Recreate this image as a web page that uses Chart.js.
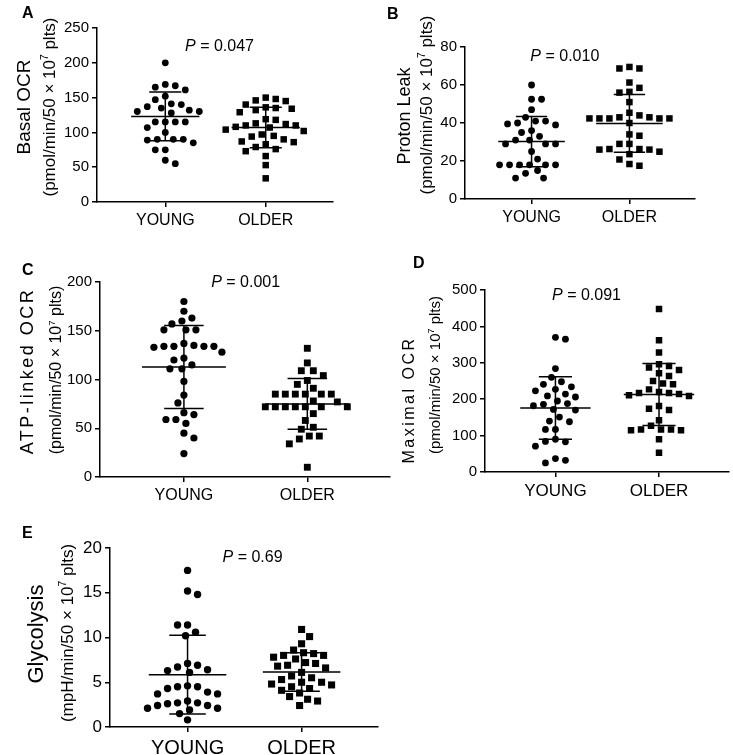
<!DOCTYPE html>
<html>
<head>
<meta charset="utf-8">
<script src="https://cdn.jsdelivr.net/npm/chart.js@4.4.0/dist/chart.umd.min.js"></script>
<style>
  body { margin: 0; background: #fff; width: 733px; height: 755px; position: relative; overflow: hidden; }
  canvas { position: absolute; }
</style>
</head>
<body>
<canvas id="chartA" width="365" height="245" style="left:0;top:0"></canvas>
<canvas id="chartB" width="368" height="245" style="left:365px;top:0"></canvas>
<canvas id="chartC" width="400" height="265" style="left:0;top:245px"></canvas>
<canvas id="chartD" width="333" height="265" style="left:400px;top:245px"></canvas>
<canvas id="chartE" width="400" height="245" style="left:0;top:510px"></canvas>
<script>
const groups = ['YOUNG', 'OLDER'];

// A - basal OCR
const basalYoung = [200, 169, 167, 165, 161, 152, 147, 141, 140, 137, 135, 132, 130, 130, 128, 115, 115, 115, 115, 107, 100, 90, 90, 89, 90, 85, 75, 75, 60, 55];
const basalOlder = [150, 148, 146, 145, 140, 136, 135, 134, 132, 129, 119, 118, 113, 112, 110, 110, 108, 107, 104, 102, 97, 95, 94, 90, 87, 86, 83, 79, 76, 73, 66, 53, 34];
const basalMean = [123, 107];
const basalSd = [35, 29];

// B - proton leak
const leakYoung = [60, 52.5, 52.5, 47, 41, 39.5, 41, 43, 39, 40, 35, 36, 33, 31, 31, 29, 29, 29, 25, 21, 18, 18, 18, 18, 18, 18, 13.5, 15, 11, 11];
const leakOlder = [69.5, 68.7, 68.7, 61.3, 58.5, 56.4, 56, 51, 45.4, 44, 43, 42.4, 42.4, 42.4, 42.4, 42.4, 43, 40, 33.3, 34, 29, 29, 26.3, 26, 26, 26.3, 24.9, 23.6, 20.8, 17.5, 18.4];
const leakMean = [30.2, 39.8];
const leakSd = [13.2, 15.2];

// C - ATP-linked OCR
const atpYoung = [180, 170, 163, 160, 157, 151, 151, 151, 137, 135, 134, 134, 134, 133, 134, 128, 122, 120, 115, 111, 111, 98, 84, 76, 66, 64, 59, 59, 55, 45, 40, 24];
const atpOlder = [132, 117, 109, 109, 104, 99, 95, 91, 85, 85, 85, 85, 85, 85, 78, 77, 72, 72, 72, 72, 72, 72, 72, 65, 58, 51, 49, 42, 42, 39, 34, 10];
const atpMean = [112.8, 75];
const atpSd = [42.6, 26];

// D - maximal OCR
const maxYoung = [370, 365, 284, 260, 248, 241, 234, 227, 223, 214, 209, 206, 195, 188, 186, 182, 172, 170, 151, 140, 138, 117, 117, 90, 84, 83, 71, 37, 32, 25];
const maxOlder = [448, 362, 328, 296, 291, 287, 280, 271, 264, 250, 243, 241, 227, 220, 217, 217, 214, 211, 209, 181, 174, 170, 142, 127, 117, 117, 117, 115, 115, 90, 53];
const maxMean = [176, 213];
const maxSd = [86, 85];

// E - glycolysis
const glyYoung = [17.5, 15.2, 14.8, 11.4, 11.4, 10.6, 10.2, 7.1, 6.9, 6.7, 6.4, 6.3, 6.1, 4.6, 4.5, 4.5, 4.3, 3.9, 3.7, 3.7, 2.9, 2.7, 2.7, 2.6, 2.4, 2.4, 2.1, 2.1, 1.9, 1.5, 0.8];
const glyOlder = [10.9, 10.1, 9.3, 8.6, 8.3, 8.2, 8.0, 8.0, 7.8, 7.6, 7.2, 7.1, 6.9, 6.8, 6.6, 6.1, 5.7, 5.5, 5.3, 5.0, 5.0, 4.8, 4.7, 4.5, 4.3, 4.1, 3.8, 3.4, 3.1, 2.9, 2.4];
const glyMean = [5.85, 6.15];
const glySd = [4.4, 2.15];

const pValues = ['0.047', '0.010', '0.001', '0.091', '0.69'];

Chart.defaults.font.family = "'Liberation Sans', Arial, sans-serif";
Chart.defaults.color = '#000';
const fam = Chart.defaults.font.family;

// box/plot in page pixels; t1/t2 = [centre x, centre y, font size, letter spacing]
const panels = [
  { id: 'chartA', letter: 'A', title: 'Basal OCR', unit: '(pmol/min/50 × 10', young: basalYoung, older: basalOlder, mean: basalMean, sd: basalSd, p: pValues[0],
    yMax: 250, yStep: 50, box: [0, 0, 365, 245], plot: [97, 28, 333, 202], xH: 30,
    letterAt: [22, 18], t1: [25, 107, 19, 0], t2: [50, 107, 17], pAt: [1.54, 223], tick: 15, label: 16, dot: 3.4 },
  { id: 'chartB', letter: 'B', title: 'Proton Leak', unit: '(pmol/min/50 × 10', young: leakYoung, older: leakOlder, mean: leakMean, sd: leakSd, p: pValues[1],
    yMax: 80, yStep: 20, box: [365, 0, 368, 245], plot: [465, 47, 695, 199], xH: 30,
    letterAt: [387, 19], t1: [405, 116, 18, 0], t2: [427, 105, 17], pAt: [1.34, 75], tick: 15, label: 16, dot: 3.4 },
  { id: 'chartC', letter: 'C', title: 'ATP-linked OCR', unit: '(pmol/min/50 × 10', young: atpYoung, older: atpOlder, mean: atpMean, sd: atpSd, p: pValues[2],
    yMax: 200, yStep: 50, box: [0, 245, 400, 265], plot: [100, 282, 390, 477], xH: 30,
    letterAt: [22, 275], t1: [28, 371, 18, 2.5], t2: [57, 370, 16], pAt: [1.5, 199], tick: 15, label: 16, dot: 3.6 },
  { id: 'chartD', letter: 'D', title: 'Maximal OCR', unit: '(pmol/min/50 × 10', young: maxYoung, older: maxOlder, mean: maxMean, sd: maxSd, p: pValues[3],
    yMax: 500, yStep: 100, box: [400, 245, 333, 265], plot: [485, 290, 733, 472], xH: 30,
    letterAt: [413, 268], t1: [410, 400, 16, 2.5], t2: [436, 375, 15], pAt: [1.3, 486], tick: 15, label: 17, dot: 3.4 },
  { id: 'chartE', letter: 'E', title: 'Glycolysis', unit: '(mpH/min/50 × 10', young: glyYoung, older: glyOlder, mean: glyMean, sd: glySd, p: pValues[4],
    yMax: 20, yStep: 5, box: [0, 510, 400, 245], plot: [110, 548, 378, 727], xH: 28,
    letterAt: [22, 538], t1: [37, 634, 22, 0], t2: [68, 633, 17], pAt: [1.57, 18.9], tick: 17, label: 20, dot: 3.7 }
];

function textPlugin(p) {
  return {
    id: 'panelText',
    afterDraw(chart) {
      const ctx = chart.ctx;
      const ox = p.box[0], oy = p.box[1];
      ctx.save();
      ctx.fillStyle = '#000';
      ctx.font = 'bold 16px ' + fam;
      ctx.textAlign = 'left';
      ctx.textBaseline = 'alphabetic';
      ctx.fillText(p.letter, p.letterAt[0] - ox, p.letterAt[1] - oy);

      // first y title line
      ctx.save();
      ctx.translate(p.t1[0] - ox, p.t1[1] - oy);
      ctx.rotate(-Math.PI / 2);
      ctx.font = p.t1[2] + 'px ' + fam;
      ctx.letterSpacing = p.t1[3] + 'px';
      ctx.textAlign = 'center';
      ctx.textBaseline = 'middle';
      ctx.fillText(p.title, 0, 0);
      ctx.restore();

      // unit line with superscript 7
      const s = p.t2[2];
      const parts = [[p.unit, s, 0], ['7', s * 0.6, -s * 0.3], [' plts)', s, 0]];
      ctx.save();
      ctx.translate(p.t2[0] - ox, p.t2[1] - oy);
      ctx.rotate(-Math.PI / 2);
      ctx.textAlign = 'left';
      ctx.textBaseline = 'middle';
      let total = 0;
      parts.forEach(([t, sz]) => { ctx.font = sz + 'px ' + fam; total += ctx.measureText(t).width; });
      let x = -total / 2;
      parts.forEach(([t, sz, dy]) => {
        ctx.font = sz + 'px ' + fam;
        ctx.fillText(t, x, dy);
        x += ctx.measureText(t).width;
      });
      ctx.restore();

      // P value
      const px = chart.scales.x.getPixelForValue(p.pAt[0]);
      const py = chart.scales.y.getPixelForValue(p.pAt[1]);
      const rest = ' = ' + p.p;
      ctx.font = 'italic 16px ' + fam;
      const w1 = ctx.measureText('P').width;
      ctx.font = '16px ' + fam;
      const w2 = ctx.measureText(rest).width;
      ctx.textBaseline = 'middle';
      ctx.font = 'italic 16px ' + fam;
      ctx.fillText('P', px - (w1 + w2) / 2, py);
      ctx.font = '16px ' + fam;
      ctx.fillText(rest, px - (w1 + w2) / 2 + w1, py);
      ctx.restore();
    }
  };
}

// spread points sideways like a dot plot, so they do not overlap
function arrange(chart) {
  const xs = chart.scales.x, ys = chart.scales.y;
  const unit = xs.getPixelForValue(2) - xs.getPixelForValue(1);
  const sx = 10, sy = 9;
  chart.data.datasets.forEach(ds => {
    if (!ds.swarm) return;
    const placed = [];
    const order = ds.data.map((d, i) => i).sort((a, b) => ds.data[b].y - ds.data[a].y);
    let side = 1;
    order.forEach(i => {
      const py = ys.getPixelForValue(ds.data[i].y);
      let off = 0;
      for (let k = 0; k < 80; k++) {
        const c = Math.ceil(k / 2) * 2 * (k % 2 ? side : -side);
        const hit = placed.some(q => Math.pow((q.x - c) / sx, 2) + Math.pow((q.y - py) / sy, 2) < 1);
        if (!hit) { off = c; break; }
      }
      if (off !== 0) side = -side;
      placed.push({ x: off, y: py });
      ds.data[i].x = ds.swarm + off / unit;
    });
  });
  chart.update('none');
}

const axisGrid = { drawOnChartArea: false, drawTicks: true, tickLength: 5, color: '#000', lineWidth: 1.5 };
const axisBorder = { color: '#000', width: 1.5 };

panels.forEach(p => {
  const [bx, by, bw, bh] = p.box;
  const [l, t, r, b] = p.plot;
  const yW = 45;
  const datasets = [
    { data: p.young.map(v => ({ x: 1, y: v })), swarm: 1, pointStyle: 'circle', pointRadius: p.dot,
      backgroundColor: '#000', borderColor: '#000', borderWidth: 0 },
    { data: p.older.map(v => ({ x: 2, y: v })), swarm: 2, pointStyle: 'rect', pointRadius: p.dot * 1.35,
      backgroundColor: '#000', borderColor: '#000', borderWidth: 0 }
  ];
  p.mean.forEach((m, i) => {
    const g = i + 1, s = p.sd[i];
    [[g - 0.34, m, g + 0.34, m], [g, m - s, g, m + s], [g - 0.16, m + s, g + 0.16, m + s], [g - 0.16, m - s, g + 0.16, m - s]]
      .forEach(([x1, y1, x2, y2]) => datasets.push({
        data: [{ x: x1, y: y1 }, { x: x2, y: y2 }], showLine: true, pointRadius: 0,
        borderColor: '#000', borderWidth: 1.5
      }));
  });

  const chart = new Chart(document.getElementById(p.id), {
    type: 'scatter',
    data: { datasets },
    options: {
      responsive: false,
      animation: false,
      events: [],
      layout: { padding: { left: l - bx - yW, top: t - by, right: bx + bw - r, bottom: by + bh - b - p.xH } },
      plugins: { legend: { display: false }, tooltip: { enabled: false } },
      scales: {
        x: {
          type: 'linear', min: 0.32, max: 2.67,
          afterBuildTicks: s => { s.ticks = groups.map((g, i) => ({ value: i + 1 })); },
          afterFit: s => { s.height = p.xH; },
          ticks: { autoSkip: false, maxRotation: 0, padding: 4, font: { size: p.label }, color: '#000',
                   callback: v => groups[Math.round(v) - 1] },
          grid: axisGrid,
          border: axisBorder
        },
        y: {
          min: 0, max: p.yMax,
          afterFit: s => { s.width = yW; },
          ticks: { stepSize: p.yStep, padding: 3, font: { size: p.tick }, color: '#000' },
          grid: axisGrid,
          border: axisBorder
        }
      }
    },
    plugins: [textPlugin(p)]
  });
  arrange(chart);
});
</script>
</body>
</html>
